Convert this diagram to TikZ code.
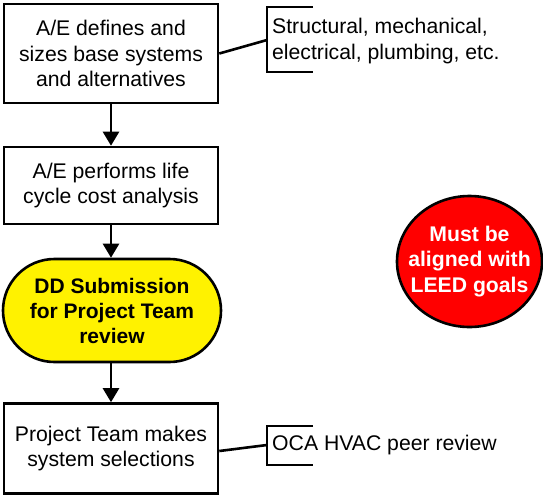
\documentclass[tikz,border=0pt]{standalone}
\usepackage{fontspec}
\setmainfont{Liberation Sans}
\usetikzlibrary{arrows.meta,shapes.misc,shapes.geometric}
\begin{document}
\begin{tikzpicture}[x=1pt,y=-1pt,
  txt/.style={font=\fontsize{21.2}{25.7}\selectfont,align=center,inner sep=0pt},
  bx/.style={txt,draw,line width=2.6pt,minimum width=214pt},
  arr/.style={line width=2.6pt,-{Triangle[length=14pt,width=16pt]}},
  lnk/.style={line width=2.6pt},
  brk/.style={line width=2.6pt}]
\useasboundingbox (0,0) rectangle (543,496);
\node[bx,minimum height=99pt] (b1) at (111,53.5) {A/E defines and\\sizes base systems\\and alternatives};
\node[bx,minimum height=77pt] (b2) at (111,185.5) {A/E performs life\\cycle cost analysis};
\node[txt,draw,line width=2.6pt,fill=yellow,rounded rectangle,minimum width=218pt,minimum height=103pt,font=\fontsize{21}{25}\selectfont\bfseries] (dd) at (112,310.5) {DD Submission\\for Project Team\\review};
\node[bx,minimum height=90pt] (b4) at (111,448.5) {Project Team makes\\system selections};
\node[draw,line width=2.6pt,fill=red,ellipse,inner sep=0pt,minimum width=145pt,minimum height=131pt] (leed) at (469.5,261.5) {};
\node[txt,text=white,font=\fontsize{21.2}{25.5}\selectfont\bfseries] (leedtxt) at (leed.center) {Must be\\aligned with\\LEED goals};
\draw[arr] (b1.south) -- (b2.north);
\draw[arr] (b2.south) -- (b2.south |- dd.north);
\draw[arr] (dd.south -| b4.north) -- (b4.north);
% bracket 1
\coordinate (k1a) at (313,7);
\coordinate (k1b) at (267,7);
\coordinate (k1c) at (267,72);
\coordinate (k1d) at (313,72);
\coordinate (k1m) at (267,40);
\draw[brk] (k1a) -- (k1b) -- (k1c) -- (k1d);
\node[txt,align=left,anchor=west] (t1) at (272,41) {Structural, mechanical,\\electrical, plumbing, etc.};
\draw[lnk] (b1.east) -- (k1m);
% bracket 2
\coordinate (k2a) at (313,426);
\coordinate (k2b) at (267,426);
\coordinate (k2c) at (267,465);
\coordinate (k2d) at (313,465);
\coordinate (k2m) at (267,445);
\draw[brk] (k2a) -- (k2b) -- (k2c) -- (k2d);
\node[txt,align=left,anchor=west] (t2) at (272,445) {OCA HVAC peer review};
\draw[lnk] (b4.east |- 0,451) -- (k2m);
\end{tikzpicture}
\end{document}
